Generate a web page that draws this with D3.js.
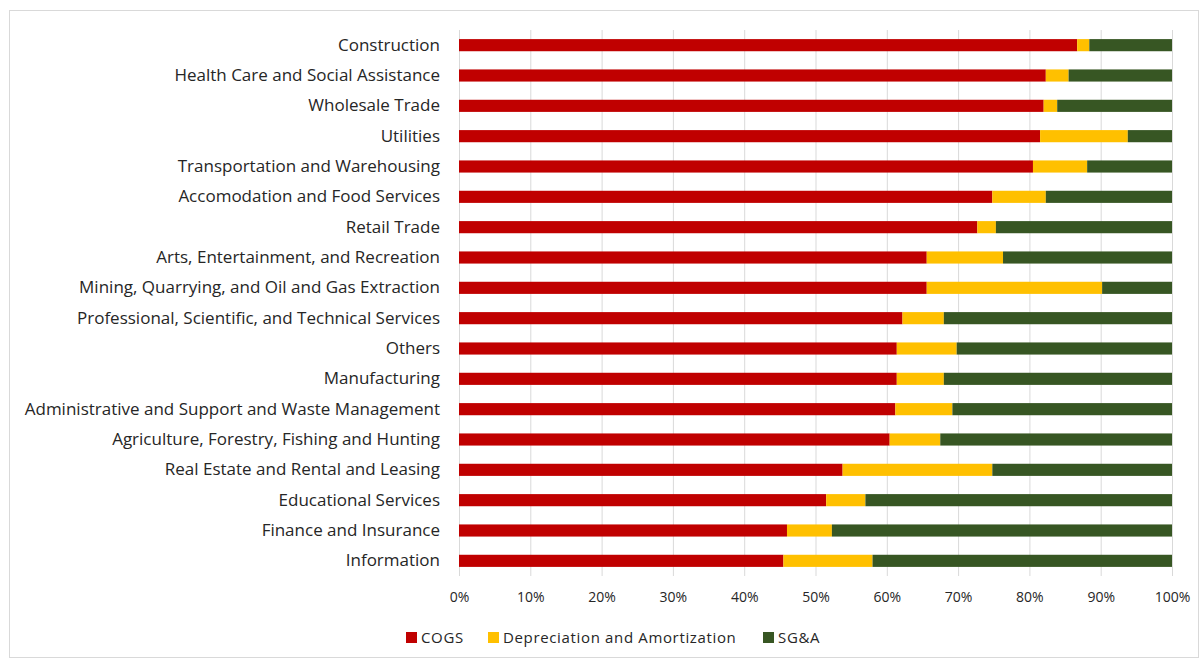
<!DOCTYPE html>
<html>
<head>
<meta charset="utf-8">
<script src="https://cdn.jsdelivr.net/npm/d3@7"></script>
<style>
  html, body { margin: 0; padding: 0; background: #fff; }
  svg { display: block; font-family: "Open Sans", Lato, sans-serif; }
</style>
</head>
<body>
<svg id="chart" width="1200" height="659"></svg>
<script>
// Industries, top to bottom
const industries = [
  "Construction",
  "Health Care and Social Assistance",
  "Wholesale Trade",
  "Utilities",
  "Transportation and Warehousing",
  "Accomodation and Food Services",
  "Retail Trade",
  "Arts, Entertainment, and Recreation",
  "Mining, Quarrying, and Oil and Gas Extraction",
  "Professional, Scientific, and Technical Services",
  "Others",
  "Manufacturing",
  "Administrative and Support and Waste Management",
  "Agriculture, Forestry, Fishing and Hunting",
  "Real Estate and Rental and Leasing",
  "Educational Services",
  "Finance and Insurance",
  "Information"
];

// Share of total cost (%)
const cogs = [86.7, 82.3, 82.0, 81.5, 80.5, 74.8, 72.7, 65.6, 65.6, 62.2, 61.4, 61.4, 61.2, 60.4, 53.8, 51.5, 46.0, 45.5];
const depreciation = [1.7, 3.2, 1.9, 12.3, 7.6, 7.5, 2.6, 10.7, 24.6, 5.8, 8.4, 6.6, 8.0, 7.1, 21.0, 5.5, 6.3, 12.5];
const sga = cogs.map((c, i) => +(100 - c - depreciation[i]).toFixed(1));

const seriesNames = ["COGS", "Depreciation and Amortization", "SG&A"];
const seriesColors = ["#C00000", "#FFC000", "#375623"];
const tickValues = [0, 10, 20, 30, 40, 50, 60, 70, 80, 90, 100];

const rows = industries.map((name, i) => ({
  name,
  "COGS": cogs[i],
  "Depreciation and Amortization": depreciation[i],
  "SG&A": sga[i]
}));

const svg = d3.select("#chart");
const W = 1200, H = 659;
const margin = { top: 30, right: 28, bottom: 83, left: 459 };
const innerW = W - margin.left - margin.right;
const innerH = H - margin.top - margin.bottom;
const textColor = "#262626";

// outer frame
svg.append("rect")
  .attr("x", 9.5).attr("y", 10.5)
  .attr("width", 1189).attr("height", 647)
  .attr("fill", "none").attr("stroke", "#d9d9d9").attr("stroke-width", 1);

const g = svg.append("g").attr("transform", `translate(${margin.left},${margin.top})`);

const x = d3.scaleLinear().domain([0, 100]).range([0, innerW]);
const y = d3.scaleBand().domain(industries).range([0, innerH]).paddingInner(0.6).paddingOuter(0.3);

// vertical gridlines
g.append("g")
  .selectAll("line")
  .data(tickValues)
  .join("line")
  .attr("x1", d => x(d) + 0.5).attr("x2", d => x(d) + 0.5)
  .attr("y1", 0).attr("y2", innerH)
  .attr("stroke", "#d9d9d9").attr("stroke-width", 1);

// stacked bars
const stack = d3.stack().keys(seriesNames);
const layers = stack(rows);
const color = d3.scaleOrdinal().domain(seriesNames).range(seriesColors);

g.append("g")
  .selectAll("g")
  .data(layers)
  .join("g")
  .attr("fill", d => color(d.key))
  .selectAll("rect")
  .data(d => d)
  .join("rect")
  .attr("x", d => x(d[0]))
  .attr("y", d => y(d.data.name))
  .attr("width", d => x(d[1]) - x(d[0]))
  .attr("height", y.bandwidth());

// category labels
const yAxis = g.append("g")
  .call(d3.axisLeft(y).tickSize(0).tickPadding(19));
yAxis.select(".domain").remove();
yAxis.selectAll("text")
  .attr("font-size", 17)
  .attr("fill", textColor)
  .attr("font-family", "'Open Sans', Lato, sans-serif");

// x axis labels
const xAxis = g.append("g")
  .attr("transform", `translate(0,${innerH})`)
  .call(d3.axisBottom(x).tickValues(tickValues).tickFormat(d => d + "%").tickSize(0).tickPadding(16));
xAxis.select(".domain").remove();
xAxis.selectAll("text")
  .attr("font-size", 14)
  .attr("fill", textColor)
  .attr("font-family", "'Open Sans', Lato, sans-serif");

// legend
const legendX = [406, 488, 763];
const legend = svg.append("g").attr("transform", "translate(0,638)");
seriesNames.forEach((name, i) => {
  legend.append("rect")
    .attr("x", legendX[i]).attr("y", -6)
    .attr("width", 11).attr("height", 11)
    .attr("fill", seriesColors[i]);
  legend.append("text")
    .attr("x", legendX[i] + 15).attr("y", 0)
    .attr("dy", "0.35em")
    .attr("font-size", 15)
    .attr("letter-spacing", 0.65)
    .attr("fill", textColor)
    .text(name);
});
</script>
</body>
</html>
